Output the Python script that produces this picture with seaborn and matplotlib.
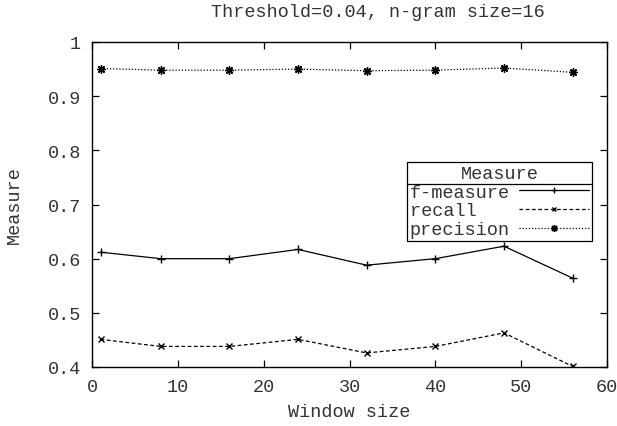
import matplotlib
matplotlib.use("Agg")
import matplotlib.pyplot as plt
import seaborn as sns
import pandas as pd
from matplotlib.lines import Line2D

# Window sizes and the three measures at each
window_size = [1, 8, 16, 24, 32, 40, 48, 56]
f_measure = [0.612, 0.600, 0.600, 0.617, 0.588, 0.600, 0.623, 0.564]
recall = [0.451, 0.438, 0.438, 0.451, 0.426, 0.438, 0.463, 0.401]
precision = [0.951, 0.948, 0.948, 0.950, 0.947, 0.948, 0.952, 0.944]

series_names = ["f-measure", "recall", "precision"]
x_ticks = [0, 10, 20, 30, 40, 50, 60]
y_ticks = [0.4, 0.5, 0.6, 0.7, 0.8, 0.9, 1.0]
y_tick_labels = ["0.4", "0.5", "0.6", "0.7", "0.8", "0.9", "1"]

sns.set_theme(style="white")
plt.rcParams["font.family"] = ["Liberation Mono", "DejaVu Sans Mono"]
FS = 13.3
TXT = "#333333"

df = pd.DataFrame({
    "Window size": window_size * 3,
    "value": f_measure + recall + precision,
    "Measure": sum([[n] * len(window_size) for n in series_names], []),
})

fig = plt.figure(figsize=(6.17, 4.27), dpi=100)
ax = fig.add_axes([92 / 617, 1 - 368 / 427, (607 - 92) / 617, (368 - 43) / 427])

styles = {
    "f-measure": dict(linestyle="-", marker="+", markersize=6),
    "recall": dict(linestyle=(0, (3, 2)), marker="x", markersize=4.5),
    "precision": dict(linestyle=(0, (1, 1.5)), marker=(8, 2, 0), markersize=6),
}

for name in series_names:
    sub = df[df["Measure"] == name]
    st = styles[name]
    sns.lineplot(data=sub, x="Window size", y="value", ax=ax, color="black",
                 linewidth=0.9, linestyle=st["linestyle"], marker=st["marker"],
                 markersize=st["markersize"], markeredgewidth=1.0,
                 markeredgecolor="black", label=name, legend=False)

ax.set_xlim(0, 60)
ax.set_ylim(0.4, 1.0)
ax.set_xticks(x_ticks)
ax.set_xticklabels([str(t) for t in x_ticks], fontsize=FS, color=TXT)
ax.set_yticks(y_ticks)
ax.set_yticklabels(y_tick_labels, fontsize=FS, color=TXT)
ax.tick_params(direction="in", length=5, width=0.9, color="black",
               top=True, right=True, bottom=True, left=True, pad=8)
for s in ax.spines.values():
    s.set_color("black")
    s.set_linewidth(1.0)
    s.set_visible(True)

ax.set_xlabel("Window size", fontsize=FS, color=TXT, labelpad=6)
ax.set_ylabel("Measure", fontsize=FS, color=TXT, labelpad=18)
ax.set_title("Threshold=0.04, n-gram size=16", fontsize=FS, color=TXT,
             pad=19, x=(378 - 92) / 515)

# monospace labels padded to equal width so they sit flush left
width = max(len(n) for n in series_names)
padded = [n.ljust(width) for n in series_names]

handles = [Line2D([], [], color="black", linewidth=0.9, linestyle=styles[n]["linestyle"],
                  marker=styles[n]["marker"], markersize=styles[n]["markersize"] - 1)
           for n in series_names]
leg = ax.legend(handles, padded, title="Measure", loc="upper left",
                bbox_to_anchor=((407 - 92) / 515, 1 - (163 - 43) / 325),
                fontsize=FS, title_fontsize=FS, markerfirst=False,
                frameon=True, fancybox=False, edgecolor="black", framealpha=1,
                borderpad=0.15, labelspacing=0.1, handlelength=3.8,
                handletextpad=0.5, borderaxespad=0, alignment="center")
leg.get_frame().set_linewidth(0.9)
for t in leg.get_texts():
    t.set_color(TXT)
leg.get_title().set_color(TXT)

fig.canvas.draw()
inv = ax.transAxes.inverted()
fb = leg.get_frame().get_window_extent()
tb = leg.get_title().get_window_extent()
x0, _ = inv.transform((fb.x0, tb.y0 - 2))
x1, ysep = inv.transform((fb.x1, tb.y0 - 2))
ax.plot([x0, x1], [ysep, ysep], transform=ax.transAxes, color="black",
        linewidth=0.9, zorder=10, clip_on=False)

fig.savefig("out.png", dpi=100)
